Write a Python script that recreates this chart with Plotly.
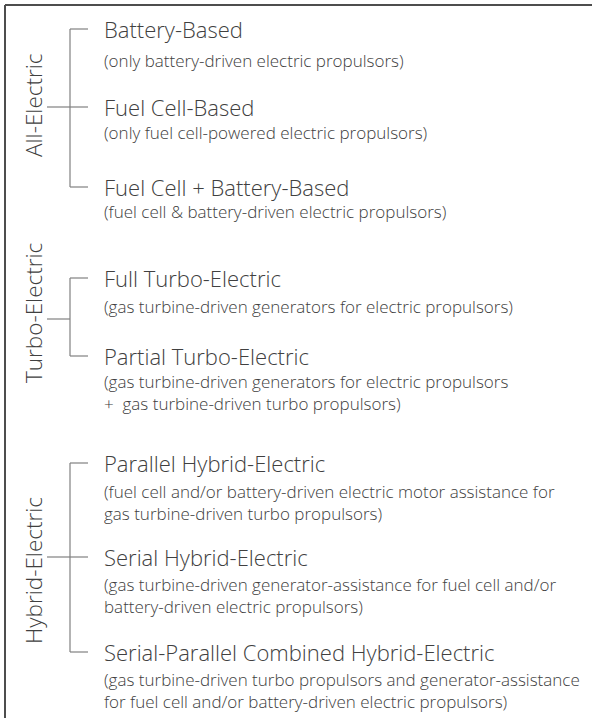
import plotly.graph_objects as go

# ---- data ----
groups = ["All-Electric", "Turbo-Electric", "Hybrid-Electric"]
items = [
    ["Battery-Based", "Fuel Cell-Based", "Fuel Cell + Battery-Based"],
    ["Full Turbo-Electric", "Partial Turbo-Electric"],
    ["Parallel Hybrid-Electric", "Serial Hybrid-Electric",
     "Serial-Parallel Combined Hybrid-Electric"],
]
descriptions = [
    [["(only battery-driven electric propulsors)"],
     ["(only fuel cell-powered electric propulsors)"],
     ["(fuel cell & battery-driven electric propulsors)"]],
    [["(gas turbine-driven generators for electric propulsors)"],
     ["(gas turbine-driven generators for electric propulsors",
      "+  gas turbine-driven turbo propulsors)"]],
    [["(fuel cell and/or battery-driven electric motor assistance for",
      "gas turbine-driven turbo propulsors)"],
     ["(gas turbine-driven generator-assistance for fuel cell and/or",
      "battery-driven electric propulsors)"],
     ["(gas turbine-driven turbo propulsors and generator-assistance",
      "for fuel cell and/or battery-driven electric propulsors)"]],
]

# ---- layout (pixel positions) ----
W, H = 592, 718
item_y = [[29, 107, 187], [278, 356], [463, 557, 652]]
desc_y = [[60, 132, 211], [306, 392], [502, 595, 690]]  # block centres
stem_y = [107, 319, 557]
label_y = [105, 313, 571]
label_x = 33
x_stem0, x_bar, x_tick, x_text = 47, 70, 88, 102

TEXT = "#404040"
LINE = "#808080"
FONT = "Open Sans"
TITLE_SIZE, DESC_SIZE, LABEL_SIZE = 22, 17, 22.5
WEIGHT = 300

fig = go.Figure()
shapes, annotations = [], []

def line(x0, y0, x1, y1, color=LINE, width=1.2):
    shapes.append(dict(type="line", xref="x", yref="y", x0=x0, y0=y0,
                       x1=x1, y1=y1, line=dict(color=color, width=width)))

# frame (top and left edges)
line(5, 5, W + 5, 5, "#4d4d4d", 2)
line(5, 5, 5, H + 5, "#4d4d4d", 2)

for g, name in enumerate(groups):
    ys = item_y[g]
    line(x_bar, ys[0], x_bar, ys[-1])
    line(x_stem0, stem_y[g], x_bar, stem_y[g])
    for i, it in enumerate(items[g]):
        line(x_bar, ys[i], x_tick, ys[i])
        annotations.append(dict(x=x_text, y=ys[i], xref="x", yref="y",
                                text=it, showarrow=False, xanchor="left",
                                yanchor="middle",
                                font=dict(family=FONT, size=TITLE_SIZE,
                                          color=TEXT, weight=WEIGHT)))
        annotations.append(dict(x=x_text, y=desc_y[g][i], xref="x",
                                yref="y", text="<br>".join(descriptions[g][i]),
                                showarrow=False, align="left",
                                xanchor="left", yanchor="middle",
                                font=dict(family=FONT, size=DESC_SIZE,
                                          color=TEXT, weight=WEIGHT)))
    annotations.append(dict(x=label_x, y=label_y[g], xref="x", yref="y",
                            text=name, showarrow=False, textangle=-90,
                            xanchor="center", yanchor="middle",
                            font=dict(family=FONT, size=LABEL_SIZE,
                                      color=TEXT, weight=WEIGHT)))

fig.update_layout(
    width=W, height=H, margin=dict(l=0, r=0, t=0, b=0),
    paper_bgcolor="white", plot_bgcolor="white",
    xaxis=dict(range=[0, W], visible=False, fixedrange=True),
    yaxis=dict(range=[H, 0], visible=False, fixedrange=True),
    shapes=shapes, annotations=annotations, showlegend=False,
)
fig.write_html("out.html", config={"displayModeBar": False},
               post_script="document.body.style.margin='0';"
                           "document.body.style.overflow='hidden';")
